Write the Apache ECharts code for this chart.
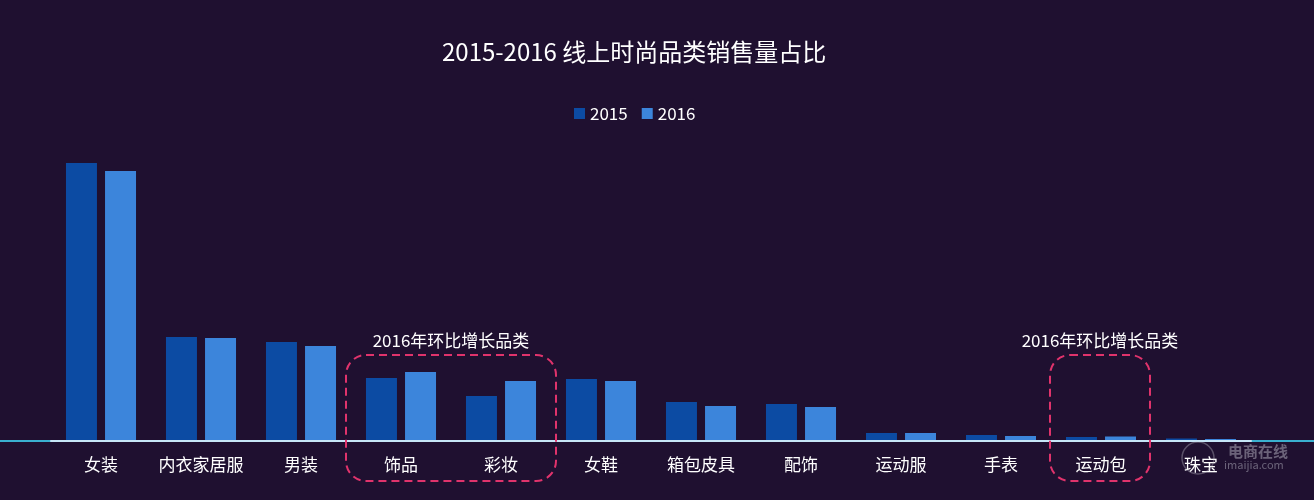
<!DOCTYPE html>
<html><head><meta charset="utf-8">
<script src="https://cdn.jsdelivr.net/npm/echarts@6/dist/echarts.min.js"></script>
<style>html,body{margin:0;padding:0;background:#1f1030;}#c{width:1314px;height:500px;}</style>
</head><body><div id="c"></div>
<script>
var categories = ['女装','内衣家居服','男装','饰品','彩妆','女鞋','箱包皮具','配饰','运动服','手表','运动包','珠宝'];
var seriesNames = ['2015','2016'];
var values2015 = [27.8,10.4,9.9,6.3,4.5,6.2,3.9,3.7,0.8,0.6,0.4,0.25];
var values2016 = [27.0,10.3,9.5,6.9,6.0,6.0,3.5,3.4,0.8,0.5,0.45,0.2];
var highlightGroups = [['饰品','彩妆'],['运动包']];
var highlightText = '2016年环比增长品类';

var font = '"Noto Sans CJK SC", "Noto Sans", sans-serif';
var chart = echarts.init(document.getElementById('c'));
var option = {
  backgroundColor: '#1f1030',
  title: {text: '2015-2016 线上时尚品类销售量占比', left: 437, top: 35,
    textStyle: {color: '#ffffff', fontSize: 24, fontWeight: 'normal', fontFamily: font}},
  legend: {data: seriesNames, left: 569, top: 100, icon: 'rect', itemWidth: 11, itemHeight: 11, itemGap: 14,
    textStyle: {color: '#ffffff', fontSize: 17, fontFamily: font}},
  grid: {left: 51, right: 63, top: 141, bottom: 59},
  xAxis: {type: 'category', data: categories, z: 5,
    axisLine: {show: true, lineStyle: {color: '#c6e6f7', width: 2}},
    axisTick: {show: false},
    axisLabel: {color: '#ffffff', fontSize: 17, margin: 15, fontFamily: font, interval: 0}},
  yAxis: {type: 'value', min: 0, max: 30, show: false, splitLine: {show: false}},
  series: [
    {name: '2015', type: 'bar', data: values2015, barWidth: 31, barGap: '26%', itemStyle: {color: '#0c4ba3'}, z: 3},
    {name: '2016', type: 'bar', data: values2016, barWidth: 31, itemStyle: {color: '#3c85db'}, z: 3}
  ]
};
chart.setOption(option);

function decorate(){
  var base = chart.convertToPixel({yAxisIndex: 0}, 0);
  var step = chart.convertToPixel({xAxisIndex: 0}, categories[1]) - chart.convertToPixel({xAxisIndex: 0}, categories[0]);
  var els = [{type: 'line', z: -10, zlevel: 0, shape: {x1: 0, y1: base, x2: 1314, y2: base},
    style: {stroke: '#3ab0d0', lineWidth: 2}}];
  highlightGroups.forEach(function(g){
    var x0 = chart.convertToPixel({xAxisIndex: 0}, g[0]) - step * 0.55;
    var x1 = chart.convertToPixel({xAxisIndex: 0}, g[g.length-1]) + step * 0.55;
    if (g.length === 1) { x0 = chart.convertToPixel({xAxisIndex: 0}, g[0]) - step * 0.51; x1 = chart.convertToPixel({xAxisIndex: 0}, g[0]) + step * 0.49; }
    els.push({type: 'rect', z: 10, shape: {x: x0, y: base - 86, width: x1 - x0, height: 126, r: 20},
      style: {fill: 'none', stroke: '#e0336c', lineWidth: 2, lineDash: [8, 5]}});
    els.push({type: 'text', z: 10, x: (x0 + x1) / 2, y: base - 100,
      style: {text: highlightText, fill: '#ffffff', font: '17px ' + font, textAlign: 'center', textVerticalAlign: 'middle'}});
  });
  els.push({type: 'text', z: 20, x: 1228, y: base + 10,
    style: {text: '电商在线', fill: 'rgba(200,200,210,0.45)', font: 'bold 15px ' + font, textAlign: 'left', textVerticalAlign: 'middle'}});
  els.push({type: 'text', z: 20, x: 1224, y: base + 24,
    style: {text: 'imaijia.com', fill: 'rgba(200,200,210,0.45)', font: '11px ' + font, textAlign: 'left', textVerticalAlign: 'middle'}});
  els.push({type: 'circle', z: 20, shape: {cx: 1198, cy: base + 17, r: 16},
    style: {fill: 'none', stroke: 'rgba(200,200,210,0.35)', lineWidth: 1.5}});
  chart.setOption({graphic: els});
}
decorate();
</script>
</body></html>
